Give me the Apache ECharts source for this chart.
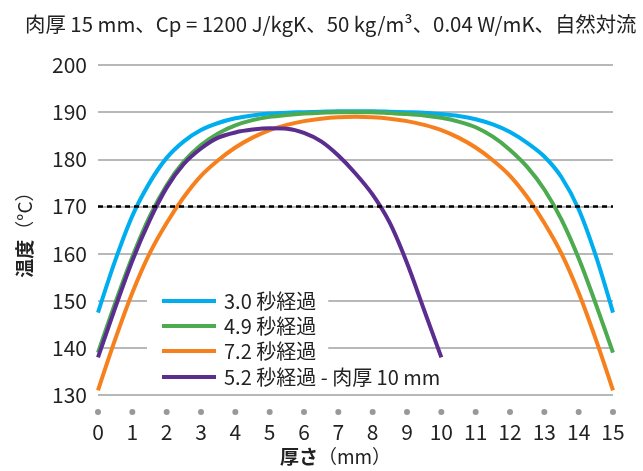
<!DOCTYPE html>
<html>
<head>
<meta charset="utf-8">
<script src="https://cdn.jsdelivr.net/npm/echarts@6/dist/echarts.min.js"></script>
<style>
  html, body { margin: 0; padding: 0; background: #fff; }
  #chart { width: 643px; height: 471px; }
</style>
</head>
<body>
<div id="chart"></div>
<script>
// 厚さ (mm)
const thick15 = [0, 0.5, 1, 1.5, 2, 2.5, 3, 3.5, 4, 4.5, 5, 5.5, 6, 6.5, 7, 7.5,
  8, 8.5, 9, 9.5, 10, 10.5, 11, 11.5, 12, 12.5, 13, 13.5, 14, 14.5, 15];
const thick10 = [0, 0.5, 1, 1.5, 2, 2.5, 3, 3.5, 4, 4.5, 5, 5.5, 6, 6.5, 7, 7.5,
  8, 8.5, 9, 9.5, 10];

// 温度 (°C)
const temp30 = [147.5, 158.5, 168, 175, 180.3, 183.8, 186.2, 187.7, 188.7, 189.3, 189.7, 189.9, 190, 190.1, 190.2, 190.2,
  190.2, 190.1, 190, 189.9, 189.6, 189.2, 188.5, 187.4, 185.8, 183.5, 180.6, 176.2, 169.4, 159.5, 147.5];
const temp49 = [139, 149.5, 159.3, 167.8, 174.5, 179.5, 183, 185.5, 187.2, 188.3, 189, 189.4, 189.7, 189.9, 190, 190,
  190, 189.8, 189.6, 189.3, 188.8, 188, 186.8, 184.8, 182, 178.4, 173.6, 167.2, 159, 149.3, 139];
const temp72 = [131, 141.8, 151.7, 160, 166.5, 172, 176.5, 179.8, 182.5, 184.6, 186.2, 187.3, 188.1, 188.6, 188.9, 189,
  188.9, 188.6, 188.1, 187.3, 186.2, 184.6, 182.5, 179.8, 176.5, 172, 166.5, 160, 151.7, 141.8, 131];
const temp52 = [138, 148.5, 158.5, 167, 174, 179, 182.3, 184.6, 185.7, 186.3, 186.6, 186.5, 185.6, 183.8, 180.8, 177,
  172.5, 166.5, 158, 148, 138];

const names = ['3.0 秒経過', '4.9 秒経過', '7.2 秒経過', '5.2 秒経過 - 肉厚 10 mm'];
const colors = ['#00aeef', '#4caa4f', '#f7801e', '#5b2d8f'];
const threshold = 170;

const font = '"Noto Sans CJK JP", "Noto Sans", sans-serif';
const pairs = (xs, ys) => xs.map((x, i) => [x, ys[i]]);

const chart = echarts.init(document.getElementById('chart'));

const lineSeries = (name, color, data) => ({
  name: name,
  type: 'line',
  smooth: 0.3,
  symbol: 'none',
  lineStyle: { width: 4, color: color },
  itemStyle: { color: color },
  data: data
});

const legendBase = {
  orient: 'vertical',
  left: 147,
  icon: 'rect',
  itemWidth: 54,
  itemHeight: 4,
  itemGap: 5,
  backgroundColor: '#fff',
  selectedMode: false,
  textStyle: { fontFamily: font, fontSize: 20, color: '#222', lineHeight: 20, padding: [0, 0, 0, 3] }
};

const nameRich = {
  b: { fontFamily: font, fontSize: 19, fontWeight: 'bold', color: '#222' },
  n: { fontFamily: font, fontSize: 19, color: '#222' }
};

chart.setOption({
  animation: false,
  title: {
    text: '肉厚 15 mm、Cp = 1200 J/kgK、50 kg/m³、0.04 W/mK、自然対流',
    left: 20,
    top: 9,
    textStyle: { fontFamily: font, fontSize: 20.4, fontWeight: 'normal', color: '#222' }
  },
  legend: [
    Object.assign({}, legendBase, { top: 287, padding: [4, 12, 2, 15], data: names.slice(0, 3) }),
    Object.assign({}, legendBase, { top: 365, padding: [2, 6, 2, 15], data: names.slice(3) })
  ],
  grid: { left: 98, right: 30, top: 65, bottom: 75 },
  xAxis: {
    type: 'value',
    min: 0,
    max: 15,
    interval: 1,
    name: '{b|厚さ}{n|（mm）}',
    nameLocation: 'middle',
    nameGap: 51,
    nameTextStyle: {
      rich: {
        b: nameRich.b,
        n: Object.assign({}, nameRich.n, { padding: [0, 40, 0, 0] })
      }
    },
    axisLine: { show: false },
    axisTick: { show: false },
    splitLine: { show: false },
    axisLabel: {
      margin: 12,
      formatter: v => '{dot|}\n{v|' + v + '}',
      rich: {
        dot: { width: 6, height: 6, borderRadius: 3, backgroundColor: '#999', lineHeight: 10 },
        v: { fontFamily: font, fontSize: 21, color: '#222', lineHeight: 26, padding: [3, 0, 0, 0] }
      }
    }
  },
  yAxis: {
    type: 'value',
    min: 130,
    max: 200,
    interval: 10,
    name: '{b|温度}{n|（°C）}',
    nameLocation: 'middle',
    nameGap: 64,
    nameTextStyle: { rich: nameRich },
    axisLine: { show: false },
    axisTick: { show: false },
    axisLabel: { fontFamily: font, fontSize: 21, color: '#222', margin: 11 },
    splitLine: { lineStyle: { color: '#a0a0a0', width: 1.5 } }
  },
  series: [
    lineSeries(names[0], colors[0], pairs(thick15, temp30)),
    lineSeries(names[1], colors[1], pairs(thick15, temp49)),
    lineSeries(names[2], colors[2], pairs(thick15, temp72)),
    Object.assign(lineSeries(names[3], colors[3], pairs(thick10, temp52)), {
      markLine: {
        silent: true,
        symbol: 'none',
        label: { show: false },
        lineStyle: { color: '#000', width: 2.5, type: [5, 4] },
        data: [{ yAxis: threshold }]
      }
    })
  ]
});
</script>
</body>
</html>
